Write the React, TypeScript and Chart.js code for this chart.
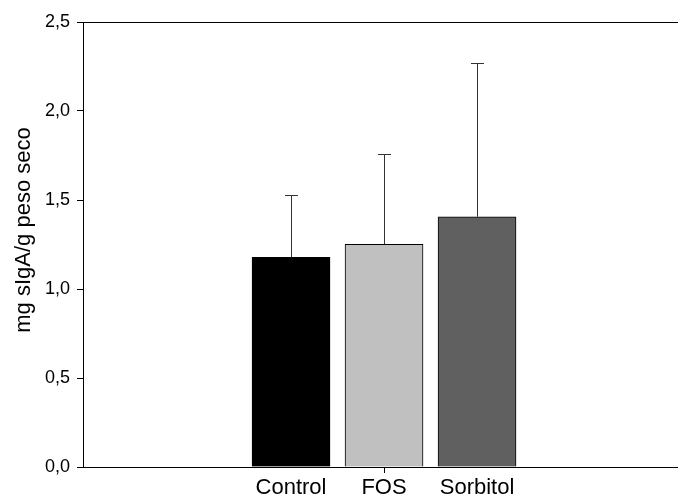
import React, { useEffect, useRef } from "react";
import { Chart, registerables } from "chart.js";

Chart.register(...registerables);

const categories = ["Control", "FOS", "Sorbitol"];
const means = [1.178, 1.251, 1.406];
const sd = [0.35, 0.507, 0.864];
const barColors = ["#000000", "#c0c0c0", "#606060"];
const yTicks = [0, 0.5, 1.0, 1.5, 2.0, 2.5];
const yTitle = "mg sIgA/g peso seco";

const errorBarPlugin = {
  id: "errorBars",
  afterDatasetsDraw(chart: any) {
    const { ctx } = chart;
    const xs = chart.scales.x;
    const ys = chart.scales.y;
    ctx.save();
    ctx.strokeStyle = "#333333";
    ctx.lineWidth = 1;
    means.forEach((m, i) => {
      const x = Math.round(xs.getPixelForValue(i + 1)) + 0.5;
      const y0 = ys.getPixelForValue(m);
      const y1 = Math.round(ys.getPixelForValue(m + sd[i])) + 0.5;
      ctx.beginPath();
      ctx.moveTo(x, y0);
      ctx.lineTo(x, y1);
      ctx.moveTo(x - 6.5, y1);
      ctx.lineTo(x + 6.5, y1);
      ctx.stroke();
    });
    ctx.restore();
  },
};

const yTitlePlugin = {
  id: "yTitle",
  afterDraw(chart: any) {
    const { ctx } = chart;
    ctx.save();
    ctx.translate(24, 230);
    ctx.rotate(-Math.PI / 2);
    ctx.fillStyle = "#000";
    ctx.font = "22px 'Liberation Sans', Arial";
    ctx.textAlign = "center";
    ctx.textBaseline = "middle";
    ctx.fillText(yTitle, 0, 0);
    ctx.restore();
  },
};

export default function App() {
  const ref = useRef<HTMLCanvasElement>(null);
  useEffect(() => {
    document.body.style.margin = "0";
    const chart = new Chart(ref.current as HTMLCanvasElement, {
      type: "bar",
      data: {
        datasets: [
          {
            data: means.map((m, i) => ({ x: i + 1, y: m })),
            backgroundColor: barColors,
            borderColor: "#000000",
            borderWidth: 1,
            borderSkipped: "bottom",
            barThickness: 78,
          },
        ],
      },
      options: {
        animation: false,
        responsive: false,
        maintainAspectRatio: false,
        layout: { padding: { top: 22, right: 0, left: 0, bottom: 0 } },
        plugins: { legend: { display: false }, tooltip: { enabled: false } },
        scales: {
          x: {
            type: "linear",
            offset: false,
            min: -1.237,
            max: 5.161,
            afterBuildTicks: (s: any) => {
              s.ticks = categories.map((_, i) => ({ value: i + 1 }));
            },
            afterFit: (s: any) => {
              s.height = 30;
            },
            ticks: {
              callback: (v: any) => categories[Number(v) - 1] ?? "",
              color: "#000",
              font: { family: "Liberation Sans, Arial", size: 22 },
              padding: 2,
              maxRotation: 0,
              autoSkip: false,
            },
            grid: {
              offset: false,
              drawOnChartArea: false,
              tickLength: 6,
              tickColor: (c: any) => (c.tick && c.tick.value === 2 ? "#000" : "rgba(0,0,0,0)"),
            },
            border: { display: true, color: "#000", width: 1 },
          },
          y: {
            min: 0,
            max: 2.5,
            afterBuildTicks: (s: any) => {
              s.ticks = yTicks.map((v) => ({ value: v }));
            },
            afterFit: (s: any) => {
              s.width = 83;
            },
            ticks: {
              callback: (v: any) => Number(v).toFixed(1).replace(".", ","),
              color: "#000",
              font: { family: "Liberation Sans, Arial", size: 18 },
              padding: 7,
            },
            grid: {
              drawOnChartArea: true,
              tickLength: 6,
              color: (c: any) => (c.tick && c.tick.value === 2.5 ? "#000" : "rgba(0,0,0,0)"),
              tickColor: "#000",
            },
            border: { display: true, color: "#000", width: 1 },
          },
        },
      },
      plugins: [errorBarPlugin, yTitlePlugin],
    });
    return () => chart.destroy();
  }, []);
  return (
    <div style={{ width: 678, height: 497 }}>
      <canvas ref={ref} width={678} height={497} style={{ display: "block" }} />
    </div>
  );
}
